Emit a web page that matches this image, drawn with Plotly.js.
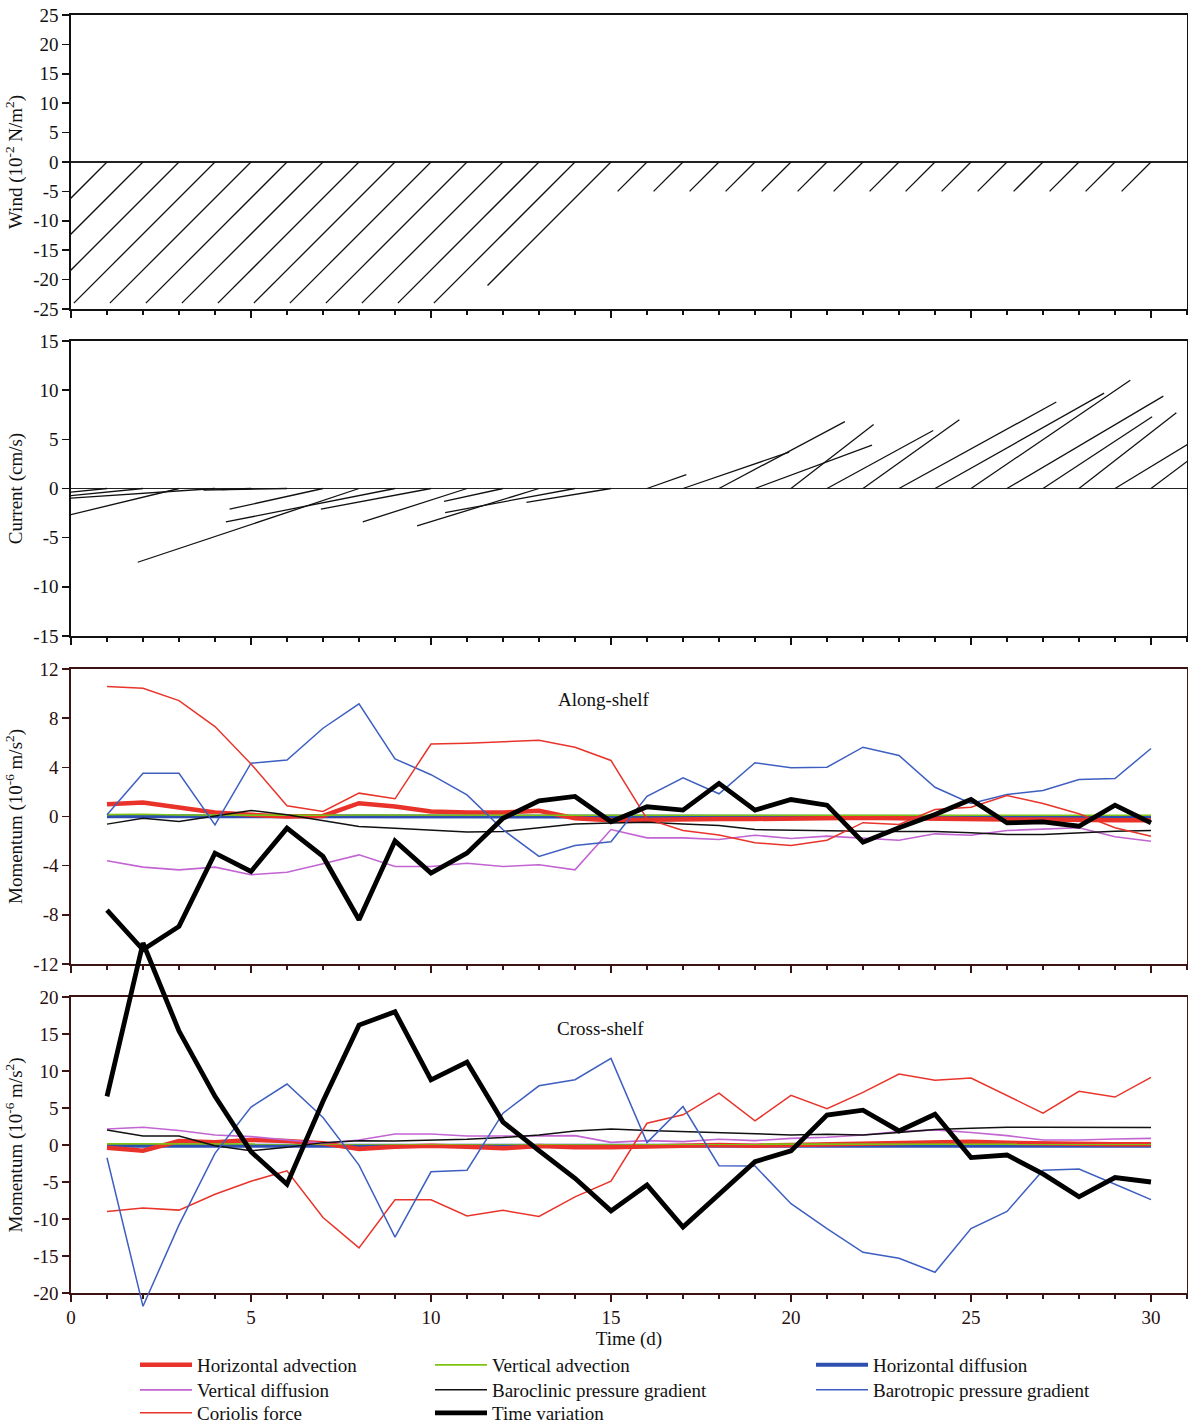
<!DOCTYPE html>
<html>
<head>
<meta charset="utf-8">
<script src="https://cdn.plot.ly/plotly-3.0.1.min.js"></script>
<style>html,body{margin:0;padding:0;background:#fff}#chart{width:1188px;height:1425px}</style>
</head>
<body>
<div id="chart"></div>
<script>
// ---------------- DATA ----------------
const days = [1,2,3,4,5,6,7,8,9,10,11,12,13,14,15,16,17,18,19,20,21,22,23,24,25,26,27,28,29,30];

// Wind stress stick components (10^-2 N/m^2)
const windU = [-24,-24,-24,-24,-24,-24,-24,-24,-24,-24,-24,-24,-24,-24,-21,-5,-5,-5,-5,-5,-5,-5,-5,-5,-5,-5,-5,-5,-5,-5];
const windV = [-24,-24,-24,-24,-24,-24,-24,-24,-24,-24,-24,-24,-24,-24,-21,-5,-5,-5,-5,-5,-5,-5,-5,-5,-5,-5,-5,-5,-5,-5];

// Current stick components (cm/s)
const curU = [-5,-9,-12,-15,-3,-8.5,-9.5,-22.5,-17.2,-11.2,-10.6,-6,-12.4,-13.2,-8.6,4,10.8,12.8,11.9,8.4,10.8,9.8,16,17.2,16.2,15.9,11.1,9.9,10.7,8];
const curV = [-0.5,-0.9,-2.9,-1,-0.1,-0.15,-2.1,-7.5,-3.4,-2.1,-3.4,-1.3,-3.8,-2.45,-1.4,1.4,3.7,6.8,4.4,6.5,5.9,7,8.8,9.7,11,9.4,7.3,7.7,6.5,6];

// Along-shelf momentum terms (10^-6 m/s^2)
const alongHAdv = [1.0,1.14,0.73,0.33,0.14,0.0,0.05,1.08,0.81,0.41,0.33,0.33,0.46,-0.14,-0.3,-0.25,-0.25,-0.2,-0.2,-0.15,-0.15,-0.1,-0.15,-0.2,-0.25,-0.25,-0.25,-0.3,-0.3,-0.3];
const alongVAdv = [0.15,0.18,0.12,0.1,0.1,0.12,0.1,0.12,0.1,0.1,0.1,0.1,0.1,0.1,0.08,0.1,0.1,0.1,0.1,0.1,0.12,0.1,0.1,0.1,0.1,0.1,0.1,0.1,0.1,0.1];
const alongHDiff = [0.02,0.02,0,0,0,0,0.02,0,0,0,0,0,0,-0.02,-0.05,-0.05,-0.05,-0.05,-0.05,-0.05,-0.05,-0.05,-0.05,-0.05,-0.05,-0.05,-0.05,-0.05,-0.05,-0.05];
const alongVDiff = [-3.6,-4.12,-4.34,-4.12,-4.74,-4.53,-3.85,-3.12,-4.07,-4.07,-3.8,-4.07,-3.93,-4.34,-1.06,-1.74,-1.74,-1.87,-1.52,-1.79,-1.6,-1.74,-1.93,-1.41,-1.52,-1.14,-1.0,-0.92,-1.65,-2.01];
const alongBaroclinic = [-0.62,-0.14,-0.41,0.05,0.49,0.14,-0.35,-0.81,-0.95,-1.08,-1.27,-1.22,-0.89,-0.62,-0.52,-0.46,-0.6,-0.73,-1.06,-1.11,-1.19,-1.19,-1.22,-1.22,-1.33,-1.46,-1.46,-1.33,-1.19,-1.14];
const alongBarotropic = [0.14,3.52,3.52,-0.68,4.34,4.6,7.18,9.16,4.69,3.4,1.76,-1.08,-3.25,-2.36,-2.05,1.65,3.15,1.85,4.37,3.96,4.01,5.64,4.96,2.38,1.06,1.79,2.12,3.01,3.09,5.53];
const alongCoriolis = [10.57,10.43,9.43,7.32,4.28,0.87,0.41,1.9,1.44,5.9,5.96,6.1,6.2,5.64,4.56,-0.2,-1.14,-1.5,-2.14,-2.36,-1.93,-0.5,-0.65,0.57,0.76,1.71,1.06,0.22,-0.92,-1.6];
const alongTimeVar = [-7.62,-10.84,-8.94,-2.98,-4.47,-0.95,-3.25,-8.4,-1.98,-4.6,-2.98,-0.14,1.27,1.63,-0.43,0.79,0.52,2.69,0.52,1.38,0.92,-2.09,-0.92,0.16,1.38,-0.52,-0.43,-0.79,0.92,-0.52];

// Cross-shelf momentum terms (10^-6 m/s^2)
const crossHAdv = [-0.36,-0.77,0.54,0.36,0.68,0.54,0.23,-0.54,-0.23,-0.09,-0.23,-0.45,-0.14,-0.32,-0.3,-0.2,-0.1,0.0,-0.1,0.0,0.1,0.2,0.35,0.45,0.45,0.3,0.2,0.15,0.1,0.1];
const crossVAdv = [0.15,0.15,0.12,0.12,0.1,0.1,0.1,0.12,0.12,0.1,0.1,0.1,0.1,0.1,0.1,0.1,0.1,0.1,0.1,0.1,0.1,0.1,0.1,0.1,0.1,0.1,0.1,0.1,0.1,0.1];
const crossHDiff = [-0.1,-0.12,-0.1,-0.1,-0.1,-0.1,-0.1,-0.1,-0.1,-0.1,-0.1,-0.1,-0.1,-0.1,-0.1,-0.1,-0.1,-0.1,-0.1,-0.1,-0.1,-0.1,-0.1,-0.1,-0.1,-0.1,-0.1,-0.1,-0.1,-0.1];
const crossVDiff = [2.17,2.4,1.95,1.36,1.13,0.68,0.23,0.68,1.49,1.49,1.22,1.22,1.27,1.27,0.36,0.59,0.45,0.77,0.59,0.9,1.04,1.36,1.81,2.04,1.68,1.27,0.68,0.68,0.82,0.9];
const crossBaroclinic = [2.04,1.22,1.22,-0.09,-0.77,-0.32,0.32,0.59,0.54,0.63,0.77,1.0,1.36,1.9,2.17,1.95,1.81,1.59,1.49,1.36,1.45,1.36,1.7,2.1,2.26,2.4,2.4,2.36,2.4,2.36];
const crossBarotropic = [-1.72,-21.8,-10.8,-1.13,5.12,8.24,3.71,-2.72,-12.45,-3.62,-3.4,4.3,8.0,8.83,11.7,0.32,5.2,-2.8,-2.85,-7.93,-11.3,-14.5,-15.3,-17.2,-11.3,-8.97,-3.4,-3.26,-5.3,-7.38];
const crossCoriolis = [-9.0,-8.5,-8.8,-6.66,-4.9,-3.5,-9.8,-13.9,-7.4,-7.4,-9.6,-8.83,-9.65,-7.0,-4.9,2.94,4.08,7.02,3.26,6.7,4.9,7.11,9.6,8.74,9.06,6.66,4.3,7.25,6.48,9.15];
const crossTimeVar = [6.57,27.3,15.4,6.57,-0.9,-5.3,5.9,16.2,18.0,8.8,11.2,3.1,-0.77,-4.5,-8.9,-5.4,-11.1,-6.6,-2.25,-0.8,4.05,4.7,1.9,4.15,-1.7,-1.35,-3.9,-7.0,-4.4,-5.0];

// Term names (legend)
const termNames = ['Horizontal advection','Vertical advection','Horizontal diffusion','Vertical diffusion','Baroclinic pressure gradient','Barotropic pressure gradient','Coriolis force','Time variation'];

// Tick values / labels
const windTicks = [-25,-20,-15,-10,-5,0,5,10,15,20,25];
const curTicks = [-15,-10,-5,0,5,10,15];
const alongTicks = [-12,-8,-4,0,4,8,12];
const crossTicks = [-20,-15,-10,-5,0,5,10,15,20];
const panelLabels = ['Along-shelf','Cross-shelf'];

// ---------------- LAYOUT / STYLE ----------------
const FONT = 'Liberation Serif, "Times New Roman", serif';
const W = 1188, H = 1425;
const M = {l: 71, r: 1, t: 15, b: 0};
const plotW = W - M.l - M.r, plotH = H - M.t - M.b;
const bottomPx = H - M.b;
function dom(topPx, botPx){ return [(bottomPx - botPx)/plotH, (bottomPx - topPx)/plotH]; }
const dWind = dom(15, 309), dCur = dom(341, 636), dAlong = dom(669, 964), dCross = dom(997, 1293);
const xRange = [0, 31];
const windRange = [-25, 25], curRange = [-15, 15], alongRange = [-12, 12], crossRange = [-20, 20];

const BLK = '#111111', BRN = '#3d1414', BRNL = '#2a0e0e';

const termStyle = [
  {color:'#e8322a', width:4.5},
  {color:'#7cc412', width:1.6},
  {color:'#2f4fb0', width:4},
  {color:'#c264d2', width:1.6},
  {color:'#111111', width:1.5},
  {color:'#3e5fc0', width:1.5},
  {color:'#e8342a', width:1.5},
  {color:'#000000', width:4.8}
];
// drawing order of the terms (bottom to top)
const drawOrder = [2, 0, 1, 3, 4, 5, 6, 7];
// legend grid: [left px of item, centre px of row]
const LEG_ITEM_W = 52;
const legendSlots = [[197,1365],[492,1365],[873,1365],[197,1390],[492,1390],[873,1390],[197,1413],[492,1413]];

function stickScale(domain, yr){
  const pxPerY = (domain[1]-domain[0])*plotH/(yr[1]-yr[0]);
  const pxPerX = plotW/(xRange[1]-xRange[0]);
  return pxPerY/pxPerX;
}
function sticks(u, v, k, xa, ya){
  const xs = [], ys = [];
  days.forEach((t, i) => { xs.push(t, t + u[i]*k, null); ys.push(0, v[i], null); });
  return {type:'scatter', mode:'lines', x:xs, y:ys, xaxis:xa, yaxis:ya, line:{color:'#111', width:1.3}, showlegend:false, hoverinfo:'skip'};
}

const traces = [];
traces.push(sticks(windU, windV, stickScale(dWind, windRange), 'x', 'y'));
traces.push(sticks(curU, curV, stickScale(dCur, curRange), 'x2', 'y2'));

const alongSeries = [alongHAdv, alongVAdv, alongHDiff, alongVDiff, alongBaroclinic, alongBarotropic, alongCoriolis, alongTimeVar];
const crossSeries = [crossHAdv, crossVAdv, crossHDiff, crossVDiff, crossBaroclinic, crossBarotropic, crossCoriolis, crossTimeVar];
const legendIds = termNames.map((n, i) => i === 0 ? 'legend' : 'legend' + (i + 1));

drawOrder.forEach(i => {
  traces.push({type:'scatter', mode:'lines', x:days, y:alongSeries[i], xaxis:'x3', yaxis:'y3', name:termNames[i],
    legend:legendIds[i], line:{color:termStyle[i].color, width:termStyle[i].width}, showlegend:true});
});
// cross-shelf: barotropic and time variation overshoot the frame in the original -> hidden tall axes pair (x5/y5)
drawOrder.forEach(i => {
  const tall = (i === 7 || i === 5);
  traces.push({type:'scatter', mode:'lines', x:days, y:crossSeries[i], xaxis: tall ? 'x5' : 'x4', yaxis: tall ? 'y5' : 'y4', name:termNames[i],
    line:{color:termStyle[i].color, width:termStyle[i].width}, showlegend:false});
});

const upf = (crossRange[1]-crossRange[0])/(dCross[1]-dCross[0]);
const y5Range = [crossRange[0] - dCross[0]*upf, crossRange[0] + (dAlong[1]-dCross[0])*upf];

function yAx(domain, range, tickvals, title, lineColor, labelColor, anchor, zero){
  return {domain, range, anchor, tickmode:'array', tickvals, ticktext: tickvals.map(String),
    ticks:'outside', ticklen:7, tickwidth:1.5, tickcolor:lineColor,
    showline:true, linecolor:lineColor, linewidth:1.6, mirror:true, showgrid:false,
    zeroline:zero, zerolinecolor:'#222', zerolinewidth:1.5,
    tickfont:{family:FONT, size:19, color:labelColor},
    title:{text:title, font:{family:FONT, size:19, color:'#111'}},
    fixedrange:true, automargin:false};
}
function xAx(anchor, lineColor, labelColor, showLabels){
  return {domain:[0,1], range:xRange, anchor, tickmode:'linear', tick0:0, dtick:5,
    ticks:'outside', ticklen:7, tickwidth:1.5, tickcolor:lineColor,
    showline:true, linecolor:lineColor, linewidth:1.6, mirror:true, showgrid:false, zeroline:false,
    showticklabels:showLabels, tickfont:{family:FONT, size:19, color:labelColor},
    minor:{tick0:0, dtick:1, ticks:'outside', ticklen:4, tickwidth:1.2, tickcolor:lineColor, showgrid:false},
    fixedrange:true, automargin:false};
}

const layout = {
  width:W, height:H, margin:Object.assign({autoexpand:false}, M), paper_bgcolor:'#fff', plot_bgcolor:'rgba(0,0,0,0)', showlegend:true,
  font:{family:FONT, size:18, color:'#111'},
  xaxis: xAx('y', BLK, BLK, false),
  xaxis2: xAx('y2', BLK, BLK, false),
  xaxis3: xAx('y3', BRN, BRNL, false),
  xaxis4: Object.assign(xAx('y4', BRN, BRNL, true), {title:{text:'Time (d)', font:{family:FONT, size:19, color:'#111'}, standoff:4}}),
  xaxis5: {domain:[0,1], range:xRange, anchor:'y5', visible:false, fixedrange:true},
  yaxis: yAx(dWind, windRange, windTicks, 'Wind (10<sup>-2</sup> N/m<sup>2</sup>)', BLK, BLK, 'x', true),
  yaxis2: yAx(dCur, curRange, curTicks, 'Current (cm/s)', BLK, BLK, 'x2', true),
  yaxis3: yAx(dAlong, alongRange, alongTicks, 'Momentum (10<sup>-6</sup> m/s<sup>2</sup>)', BRN, BRNL, 'x3', false),
  yaxis4: yAx(dCross, crossRange, crossTicks, 'Momentum (10<sup>-6</sup> m/s<sup>2</sup>)', BRN, BRNL, 'x4', false),
  yaxis5: {domain:[0, dAlong[1]], range:y5Range, anchor:'x5', visible:false, fixedrange:true},
  annotations: [
    {text:panelLabels[0], xref:'x3', yref:'y3', x:14.8, y:9.5, showarrow:false, font:{family:FONT, size:19, color:'#111'}},
    {text:panelLabels[1], xref:'x4', yref:'y4', x:14.7, y:15.8, showarrow:false, font:{family:FONT, size:19, color:'#111'}}
  ]
};
// each legend entry is its own legend, placed so that its text starts at the slot's x
legendIds.forEach((id, i) => {
  const left = legendSlots[i][0] - (10 + LEG_ITEM_W);
  layout[id] = {orientation:'v', xref:'paper', yref:'paper', itemwidth:LEG_ITEM_W,
    x: (left - M.l)/plotW, y: (bottomPx - legendSlots[i][1])/plotH, xanchor:'left', yanchor:'middle',
    font:{family:FONT, size:19, color:'#111'}, bgcolor:'rgba(0,0,0,0)', borderwidth:0,
    itemclick:false, itemdoubleclick:false};
});

Plotly.newPlot('chart', traces, layout, {staticPlot:true, displayModeBar:false})
  .catch(e => console.error('PLOT ERROR', e));
</script>
</body>
</html>
